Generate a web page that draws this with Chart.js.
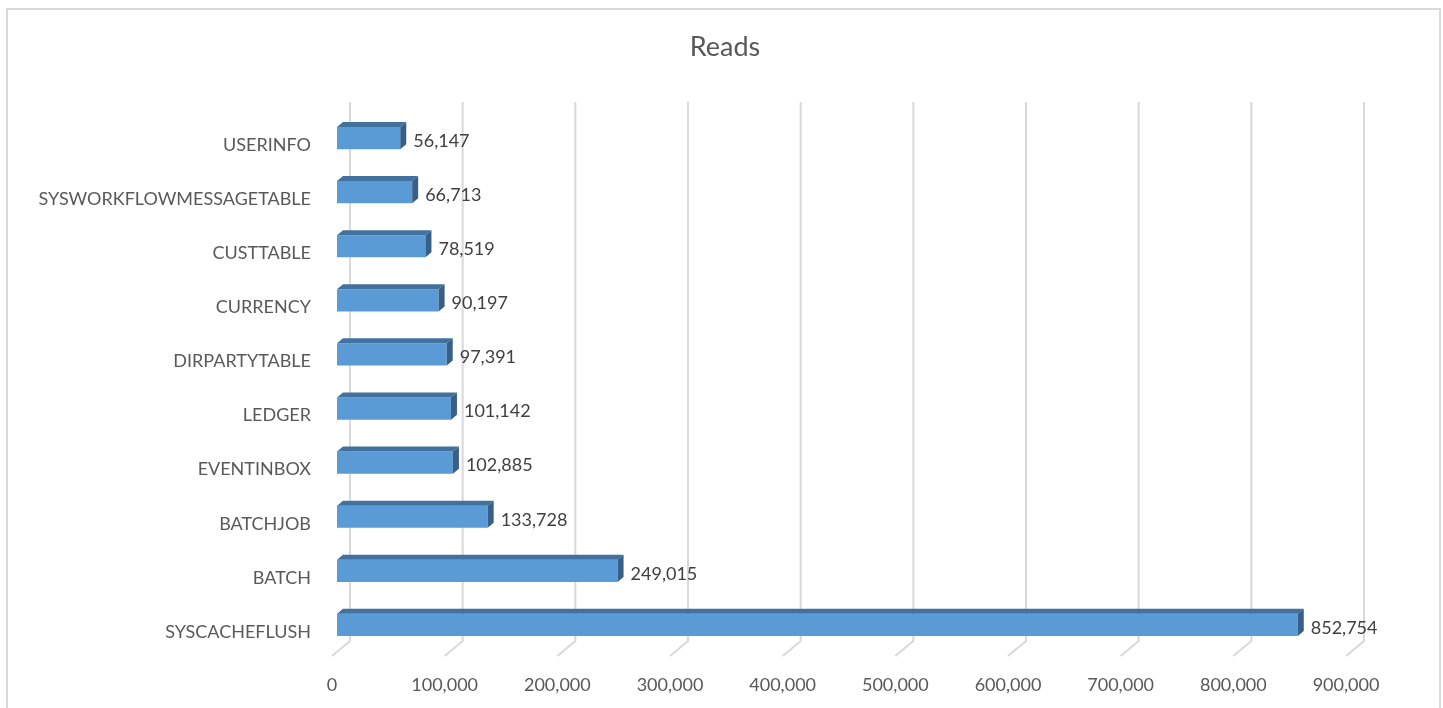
<!DOCTYPE html>
<html>
<head>
<meta charset="utf-8">
<script src="https://cdn.jsdelivr.net/npm/chart.js@4/dist/chart.umd.min.js"></script>
<style>
html,body{margin:0;padding:0;background:#fff;}
#wrap{position:relative;width:1443px;height:708px;}
</style>
</head>
<body>
<div id="wrap"><canvas id="c" width="1443" height="708"></canvas></div>
<script>
const categories = ['USERINFO','SYSWORKFLOWMESSAGETABLE','CUSTTABLE','CURRENCY','DIRPARTYTABLE','LEDGER','EVENTINBOX','BATCHJOB','BATCH','SYSCACHEFLUSH'];
const reads = [56147, 66713, 78519, 90197, 97391, 101142, 102885, 133728, 249015, 852754];
const xTicks = [0,100000,200000,300000,400000,500000,600000,700000,800000,900000];
const chartTitle = 'Reads';

const FONT = 'Lato, "Liberation Sans", sans-serif';
const DX = 6, DY = -5;
const fmt = v => v.toLocaleString('en-US');

const framePlugin = {
  id: 'frame',
  beforeDraw(chart) {
    const ctx = chart.ctx;
    ctx.save();
    ctx.fillStyle = '#ffffff';
    ctx.fillRect(0, 0, chart.width, chart.height);
    ctx.strokeStyle = '#d9d9d9';
    ctx.lineWidth = 2;
    ctx.strokeRect(7, 9, 1433, 720);
    ctx.fillStyle = '#595959';
    ctx.font = '27px ' + FONT;
    ctx.textAlign = 'center';
    ctx.textBaseline = 'middle';
    ctx.fillText(chartTitle, 725, 47);
    ctx.restore();
  }
};

const gridPlugin = {
  id: 'grid3d',
  beforeDatasetsDraw(chart) {
    const ctx = chart.ctx, xs = chart.scales.x;
    ctx.save();
    ctx.strokeStyle = '#d9d9d9';
    ctx.lineWidth = 2;
    xTicks.forEach(v => {
      const px = xs.getPixelForValue(v) + 13;
      ctx.beginPath();
      ctx.moveTo(px, 102);
      ctx.lineTo(px, 641);
      ctx.lineTo(px - 18, 656);
      ctx.stroke();
    });
    ctx.restore();
  }
};

const barPlugin = {
  id: 'bar3d',
  afterDatasetsDraw(chart) {
    const ctx = chart.ctx;
    const meta = chart.getDatasetMeta(0);
    ctx.save();
    meta.data.forEach((el, i) => {
      const p = el.getProps(['x','y','base','height'], true);
      const top = p.y - p.height / 2, bot = p.y + p.height / 2;
      const l = p.base, r = p.x;
      ctx.fillStyle = '#41719c';
      ctx.beginPath();
      ctx.moveTo(l, top); ctx.lineTo(l + DX, top + DY); ctx.lineTo(r + DX, top + DY); ctx.lineTo(r, top);
      ctx.closePath(); ctx.fill();
      ctx.fillStyle = '#385f85';
      ctx.beginPath();
      ctx.moveTo(r, top); ctx.lineTo(r + DX, top + DY); ctx.lineTo(r + DX, bot + DY); ctx.lineTo(r, bot);
      ctx.closePath(); ctx.fill();
      ctx.fillStyle = '#404040';
      ctx.font = '18px ' + FONT;
      ctx.textAlign = 'left';
      ctx.textBaseline = 'middle';
      ctx.fillText(fmt(reads[i]), r + 13, p.y + 3);
    });
    ctx.restore();
  }
};

new Chart(document.getElementById('c'), {
  type: 'bar',
  data: {
    labels: categories,
    datasets: [{
      data: reads,
      backgroundColor: '#5b9bd5',
      borderWidth: 0,
      barPercentage: 0.41,
      categoryPercentage: 1
    }]
  },
  options: {
    indexAxis: 'y',
    responsive: false,
    devicePixelRatio: 1,
    animation: false,
    layout: { padding: { left: 0, right: 92, top: 111, bottom: 0 } },
    plugins: {
      legend: { display: false },
      tooltip: { enabled: false },
      title: { display: false }
    },
    scales: {
      x: {
        min: 0, max: 900000,
        afterBuildTicks: s => { s.ticks = xTicks.map(v => ({ value: v })); },
        afterFit: s => { s.height = 56; },
        grid: { display: false, drawTicks: false },
        border: { display: false },
        ticks: {
          color: '#595959',
          font: { family: FONT, size: 18 },
          padding: 22,
          labelOffset: -5,
          maxRotation: 0,
          autoSkip: false,
          callback: v => fmt(v)
        }
      },
      y: {
        afterFit: s => { s.width = 337; },
        grid: { display: false, drawTicks: false },
        border: { display: false },
        ticks: {
          color: '#595959',
          font: { family: FONT, size: 18 },
          padding: 26,
          labelOffset: 7,
          autoSkip: false
        }
      }
    }
  },
  plugins: [framePlugin, gridPlugin, barPlugin]
});
</script>
</body>
</html>
